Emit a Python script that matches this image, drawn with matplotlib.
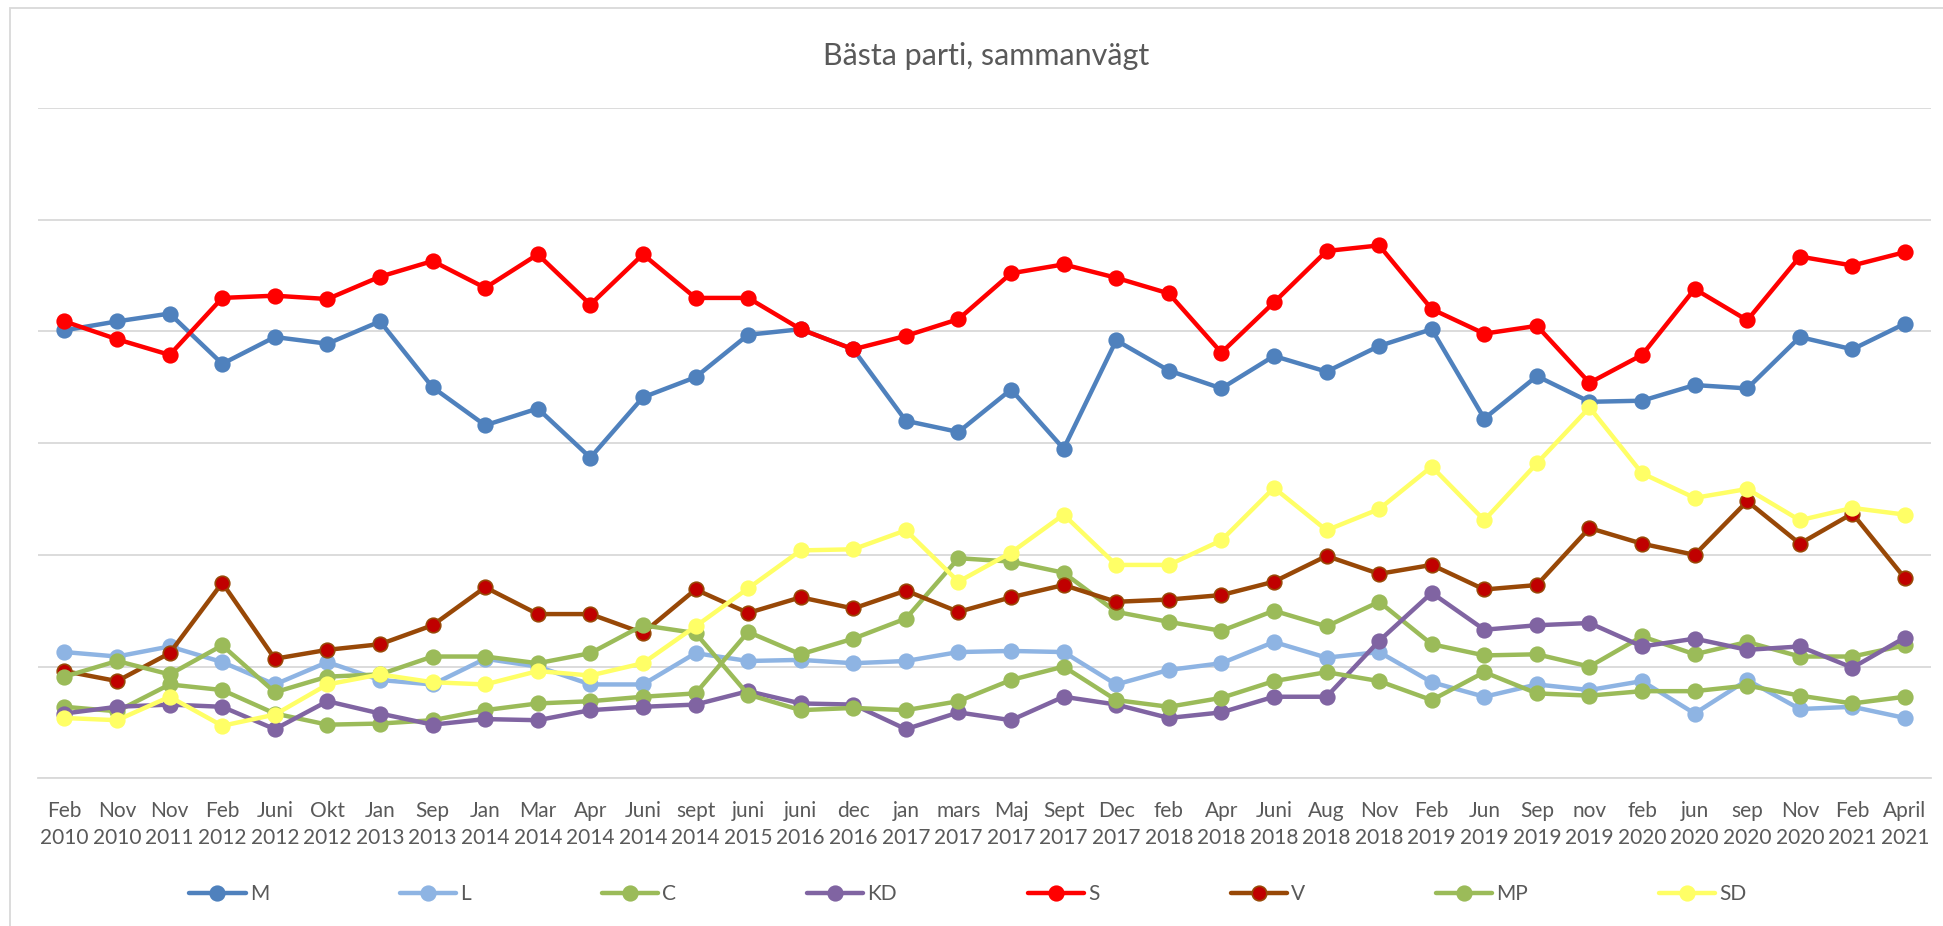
import matplotlib
matplotlib.use("Agg")
import matplotlib.pyplot as plt
from matplotlib.patches import Rectangle
import numpy as np

# survey rounds
months = ["Feb", "Nov", "Nov", "Feb", "Juni", "Okt", "Jan", "Sep", "Jan", "Mar",
          "Apr", "Juni", "sept", "juni", "juni", "dec", "jan", "mars", "Maj", "Sept",
          "Dec", "feb", "Apr", "Juni", "Aug", "Nov", "Feb", "Jun", "Sep", "nov",
          "feb", "jun", "sep", "Nov", "Feb", "April"]
years = [2010, 2010, 2011, 2012, 2012, 2012, 2013, 2013, 2014, 2014,
         2014, 2014, 2014, 2015, 2016, 2016, 2017, 2017, 2017, 2017,
         2017, 2018, 2018, 2018, 2018, 2018, 2019, 2019, 2019, 2019,
         2020, 2020, 2020, 2020, 2021, 2021]

M = [40.1, 40.9, 41.6, 37.1, 39.5, 38.9, 40.9, 35.0, 31.6, 33.1, 28.7, 34.1,
     35.9, 39.7, 40.2, 38.4, 32.0, 31.0, 34.8, 29.5, 39.2, 36.5, 34.9, 37.8,
     36.4, 38.7, 40.2, 32.2, 36.0, 33.7, 33.8, 35.2, 34.9, 39.5, 38.4, 40.7]
L = [11.3, 10.9, 11.8, 10.4, 8.4, 10.4, 8.8, 8.4, 10.7, 10.0, 8.4, 8.4,
     11.2, 10.5, 10.6, 10.3, 10.5, 11.3, 11.4, 11.3, 8.4, 9.7, 10.3, 12.2,
     10.8, 11.3, 8.6, 7.3, 8.4, 7.9, 8.7, 5.8, 8.8, 6.2, 6.4, 5.4]
C = [6.4, 6.0, 8.4, 7.9, 5.8, 4.8, 4.9, 5.2, 6.1, 6.7, 6.9, 7.3,
     7.6, 13.1, 11.1, 12.5, 14.3, 19.7, 19.4, 18.4, 14.9, 14.0, 13.2, 15.0,
     13.6, 15.8, 12.0, 11.0, 11.1, 10.0, 12.7, 11.1, 12.2, 10.9, 10.9, 11.9]
KD = [5.8, 6.4, 6.6, 6.4, 4.4, 6.9, 5.8, 4.8, 5.3, 5.2, 6.1, 6.4,
      6.6, 7.8, 6.7, 6.6, 4.4, 5.9, 5.2, 7.3, 6.6, 5.4, 5.9, 7.3,
      7.3, 12.3, 16.6, 13.3, 13.7, 13.9, 11.8, 12.5, 11.5, 11.8, 9.9, 12.6]
S = [40.9, 39.3, 37.9, 43.0, 43.2, 42.9, 44.9, 46.3, 43.9, 46.9, 42.4, 46.9,
     43.0, 43.0, 40.2, 38.4, 39.6, 41.1, 45.2, 46.0, 44.8, 43.4, 38.1, 42.6,
     47.2, 47.7, 42.0, 39.8, 40.5, 35.4, 37.9, 43.8, 41.0, 46.7, 45.9, 47.1]
V = [9.6, 8.7, 11.2, 17.5, 10.7, 11.5, 12.0, 13.7, 17.1, 14.7, 14.7, 13.0,
     16.9, 14.8, 16.2, 15.2, 16.8, 14.9, 16.2, 17.3, 15.8, 16.0, 16.4, 17.6,
     19.9, 18.3, 19.1, 16.9, 17.3, 22.4, 21.0, 20.0, 24.8, 21.0, 23.7, 17.9]
MP = [9.1, 10.5, 9.3, 11.9, 7.7, 9.1, 9.3, 10.9, 10.9, 10.3, 11.2, 13.7,
      13.0, 7.5, 6.1, 6.3, 6.1, 6.9, 8.8, 10.0, 7.0, 6.4, 7.2, 8.7,
      9.5, 8.7, 7.0, 9.5, 7.6, 7.4, 7.8, 7.8, 8.3, 7.4, 6.7, 7.3]
SD = [5.4, 5.2, 7.3, 4.7, 5.7, 8.4, 9.3, 8.6, 8.4, 9.6, 9.2, 10.3,
      13.6, 17.0, 20.4, 20.5, 22.2, 17.6, 20.2, 23.6, 19.1, 19.1, 21.3, 26.0,
      22.2, 24.1, 27.9, 23.1, 28.2, 33.2, 27.3, 25.1, 25.9, 23.1, 24.2, 23.6]

series = [
    ("M", M, "#4F81BD", "#4F81BD"),
    ("L", L, "#8EB4E3", "#8EB4E3"),
    ("C", C, "#9BBB59", "#9BBB59"),
    ("KD", KD, "#8064A2", "#8064A2"),
    ("S", S, "#FF0000", "#FF0000"),
    ("V", V, "#984807", "#C00000"),
    ("MP", MP, "#9BBB59", "#9BBB59"),
    ("SD", SD, "#FFFF66", "#FFFF66"),
]

plt.rcParams['font.family'] = ['Lato', 'DejaVu Sans']
text_col = "#595959"
grid_col = "#D9D9D9"

fig = plt.figure(figsize=(19.43, 9.26), dpi=100)
ax = fig.add_axes([38.2 / 1943, 1 - 778.3 / 926, (1931.3 - 38.2) / 1943, (778.3 - 108) / 926])

x = np.arange(len(months))
for name, vals, lc, mc in series:
    mec = lc if name == "V" else mc
    ax.plot(x, vals, color=lc, lw=3.2, marker='o', ms=10.5,
            markerfacecolor=mc, markeredgecolor=mec, markeredgewidth=1.2,
            label=name, solid_capstyle='round')

ax.set_xlim(-0.5, len(months) - 0.5)
ax.set_ylim(0, 60)
ax.set_yticks(np.arange(0, 61, 10))
ax.set_yticklabels([])
ax.tick_params(axis='y', length=0)
ax.grid(axis='y', color=grid_col, lw=1.3)
ax.set_axisbelow(True)
for side in ["left", "right", "top"]:
    ax.spines[side].set_visible(False)
ax.spines["bottom"].set_color(grid_col)
ax.spines["bottom"].set_linewidth(1.3)

ax.set_xticks(x)
ax.set_xticklabels([f"{m}\n{y}" for m, y in zip(months, years)])
ax.tick_params(axis='x', length=0, pad=16, labelsize=15, labelcolor=text_col)
for t in ax.get_xticklabels():
    t.set_linespacing(1.45)

fig.text(986 / 1943, 1 - 65 / 926, "Bästa parti, sammanvägt", ha='center',
         va='baseline', fontsize=22, color=text_col)

fig.legend(ncol=8, loc='center', bbox_to_anchor=(968 / 1943, 1 - 894 / 926),
           frameon=False, fontsize=15, handlelength=2.7, handletextpad=0.2,
           columnspacing=6.28, labelcolor=text_col)

# chart area border
fig.patches.append(Rectangle((10 / 1943, -0.5), 2, 0.5 + 1 - 8 / 926,
                             transform=fig.transFigure, fill=False,
                             edgecolor=grid_col, lw=1.3))

fig.savefig("out.png", dpi=100)
